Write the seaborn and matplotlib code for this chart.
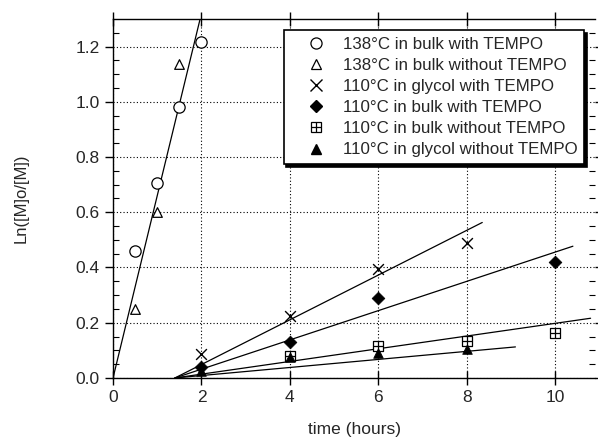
import matplotlib
matplotlib.use("Agg")
import matplotlib.pyplot as plt
from matplotlib.lines import Line2D
import numpy as np
import pandas as pd
import seaborn as sns

# Measured conversion data: ln([M]0/[M]) vs. time (hours)
t_138_bulk_tempo = [0.5, 1.0, 1.5, 2.0]
y_138_bulk_tempo = [0.46, 0.705, 0.98, 1.215]

t_138_bulk_none = [0.5, 1.0, 1.5]
y_138_bulk_none = [0.25, 0.60, 1.135]

t_110_glycol_tempo = [2, 4, 6, 8]
y_110_glycol_tempo = [0.085, 0.225, 0.395, 0.49]

t_110_bulk_tempo = [2, 4, 6, 10]
y_110_bulk_tempo = [0.04, 0.13, 0.29, 0.42]

t_110_bulk_none = [4, 6, 8, 10]
y_110_bulk_none = [0.08, 0.115, 0.135, 0.162]

t_110_glycol_none = [2, 4, 6, 8]
y_110_glycol_none = [0.025, 0.075, 0.09, 0.105]

# Linear fits: (induction time, slope, end time)
fit_t0 = [0.0, 1.4, 1.4, 1.4, 1.4]
fit_slope = [0.66, 0.081, 0.053, 0.023, 0.0146]
fit_tend = [1.97, 8.35, 10.4, 10.8, 9.1]

labels = [
    "138°C in bulk with TEMPO",
    "138°C in bulk without TEMPO",
    "110°C in glycol with TEMPO",
    "110°C in bulk with TEMPO",
    "110°C in bulk without TEMPO",
    "110°C in glycol without TEMPO",
]

sns.set_style("ticks")
plt.rcParams["font.family"] = ["Liberation Sans", "DejaVu Sans"]

fig = plt.figure(figsize=(5.98, 4.40), dpi=100)
ax = fig.add_axes([0.189, 0.141, 0.806, 0.816])

# fitted lines
for t0, k, t1 in zip(fit_t0, fit_slope, fit_tend):
    xs = np.array([t0, t1])
    df = pd.DataFrame({"t": xs, "y": k * (xs - t0)})
    sns.lineplot(data=df, x="t", y="y", ax=ax, color="black", lw=0.9, zorder=2)

ms = 60
sns.scatterplot(x=t_138_bulk_tempo, y=y_138_bulk_tempo, ax=ax, marker="o",
                s=ms * 1.1, facecolor="white", edgecolor="black", linewidth=0.9, zorder=3)
sns.scatterplot(x=t_138_bulk_none, y=y_138_bulk_none, ax=ax, marker="^",
                s=ms * 0.8, facecolor="white", edgecolor="black", linewidth=0.9, zorder=3)
sns.scatterplot(x=t_110_glycol_tempo, y=y_110_glycol_tempo, ax=ax, marker="x",
                s=ms, color="black", linewidth=1.0, zorder=3)
sns.scatterplot(x=t_110_bulk_tempo, y=y_110_bulk_tempo, ax=ax, marker="D",
                s=ms * 0.7, color="black", edgecolor="black", zorder=3)
sns.scatterplot(x=t_110_bulk_none, y=y_110_bulk_none, ax=ax, marker="s",
                s=ms * 0.9, facecolor="white", edgecolor="black", linewidth=0.9, zorder=3)
sns.scatterplot(x=t_110_bulk_none, y=y_110_bulk_none, ax=ax, marker="+",
                s=ms * 0.9, color="black", linewidth=0.9, zorder=4)
sns.scatterplot(x=t_110_glycol_none, y=y_110_glycol_none, ax=ax, marker="^",
                s=ms * 0.8, color="black", edgecolor="black", zorder=3)

ax.set_xlim(0, 10.9)
ax.set_ylim(0, 1.3)
ax.set_xticks([0, 2, 4, 6, 8, 10])
ax.set_yticks(np.arange(0, 1.21, 0.2))
ax.set_yticks(np.arange(0, 1.3, 0.05), minor=True)
ax.set_yticklabels([f"{v:.1f}" for v in np.arange(0, 1.21, 0.2)])

ax.grid(True, which="major", color="black", linestyle=(0, (1, 2)), linewidth=0.8)
for side in ["left", "bottom", "top"]:
    ax.spines[side].set_visible(True)
    ax.spines[side].set_linewidth(1.0)
    ax.spines[side].set_color("black")
ax.spines["right"].set_visible(False)

ax.tick_params(axis="x", which="major", direction="inout", length=10, width=1.0,
               top=True, labelsize=12.5, pad=4, color="black")
ax.tick_params(axis="y", which="major", direction="out", length=6, width=1.0,
               right=True, labelsize=12.5, color="black")
ax.tick_params(axis="y", which="minor", direction="in", length=4, width=0.8,
               right=True, color="black")

ax.set_xlabel("time (hours)", fontsize=12.5, labelpad=12)
ax.set_ylabel("Ln([M]o/[M])", fontsize=12, labelpad=34)

handles = [
    Line2D([], [], ls="none", marker="o", ms=8, mfc="white", mec="black", mew=0.9),
    Line2D([], [], ls="none", marker="^", ms=7, mfc="white", mec="black", mew=0.9),
    Line2D([], [], ls="none", marker="x", ms=8, color="black", mew=1.0),
    Line2D([], [], ls="none", marker="D", ms=6, color="black"),
    (Line2D([], [], ls="none", marker="s", ms=7, mfc="white", mec="black", mew=0.9),
     Line2D([], [], ls="none", marker="+", ms=7, color="black", mew=0.9)),
    Line2D([], [], ls="none", marker="^", ms=7, color="black"),
]
leg = ax.legend(handles, labels, loc="upper right", bbox_to_anchor=(0.985, 0.978),
                fontsize=12.2, frameon=True, fancybox=False,
                shadow={"color": "black", "alpha": 1.0}, framealpha=1,
                edgecolor="black", labelspacing=0.36, handletextpad=0.1,
                borderpad=0.4, handlelength=3.0, borderaxespad=0.2)
leg.get_frame().set_linewidth(1.2)

fig.savefig("out.png", dpi=100)
